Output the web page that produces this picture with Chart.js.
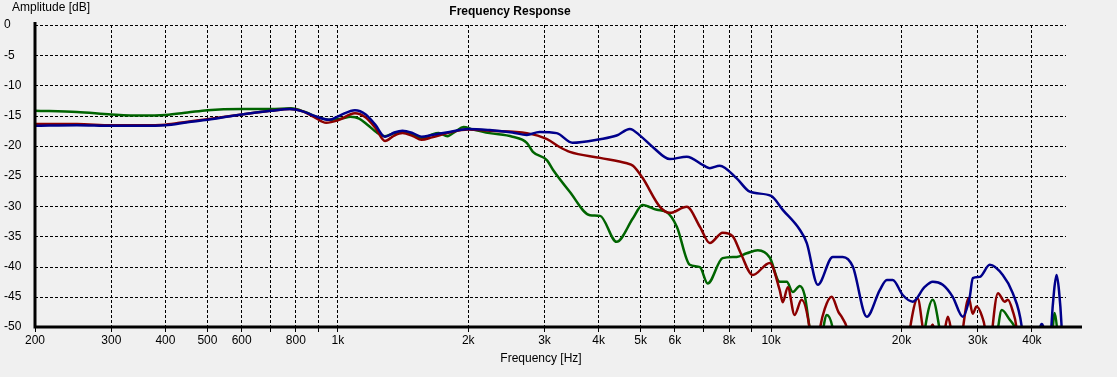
<!DOCTYPE html>
<html>
<head>
<meta charset="utf-8">
<script src="https://cdn.jsdelivr.net/npm/chart.js@4.4.1/dist/chart.umd.min.js"></script>
<style>
html, body { margin: 0; padding: 0; background: #f0f0f0; }
#wrap { width: 1117px; height: 377px; position: relative; }
</style>
</head>
<body>
<div id="wrap"><canvas id="chart_frequencyResponse"></canvas></div>
<script>
// [frequency Hz, amplitude dB]; values below -50 run off the bottom
var greenCurve = [
  [200, -14.2], [250, -14.4], [300, -14.8], [350, -15.0], [400, -14.9], [450, -14.5], [500, -14.1],
  [600, -13.9], [700, -13.9], [780, -13.8], [840, -14.4], [900, -15.3], [960, -15.7], [1020, -15.5],
  [1070, -15.2], [1120, -15.5], [1170, -16.5], [1230, -17.8], [1285, -18.4], [1350, -17.9], [1410, -17.7],
  [1490, -18.2], [1560, -18.8], [1640, -18.2], [1710, -17.9], [1790, -18.4], [1870, -17.6], [1950, -16.9],
  [2050, -17.3], [2240, -17.9], [2530, -18.5], [2730, -19.5], [2820, -21.0], [3040, -22.4], [3140, -24.0],
  [3430, -27.6], [3820, -31.5], [4030, -31.6], [4400, -35.9], [4800, -32.0], [5050, -29.8], [5450, -30.6],
  [5750, -31.0], [6060, -33.4], [6490, -39.7], [6850, -40.1], [7140, -42.8], [7730, -38.6], [8330, -38.4],
  [8790, -37.8], [9320, -37.3], [9930, -38.5], [10470, -42.5], [10870, -42.5], [11220, -44.2], [11650, -43.2],
  [11950, -44.7], [12290, -50.5], [12700, -57], [13100, -51.5], [13450, -48.0], [13900, -50.5], [14300, -58],
  [22000, -58], [22630, -50.5], [23620, -45.5], [24510, -50.5], [25400, -58], [32500, -58], [33370, -50.5],
  [34080, -47.2], [35560, -48.8], [36300, -49.7], [36900, -51], [37800, -58], [44000, -58], [44600, -51],
  [45150, -47.7], [45800, -51], [46400, -58]
];
var redCurve = [
  [200, -16.4], [250, -16.4], [300, -16.6], [350, -16.6], [400, -16.5], [450, -16.0], [500, -15.6],
  [600, -14.8], [700, -14.2], [775, -13.9], [830, -14.3], [880, -15.2], [940, -16.2], [1000, -15.8],
  [1095, -14.6], [1160, -15.3], [1220, -17.0], [1285, -19.2], [1350, -18.3], [1410, -17.9], [1490, -18.4],
  [1560, -19.0], [1650, -18.6], [1810, -17.8], [2000, -17.3], [2240, -17.5], [2730, -17.9], [3040, -18.9],
  [3250, -20.2], [3430, -21.0], [4030, -22.0], [4650, -22.9], [4800, -23.3], [5050, -25.3], [5540, -30.1],
  [5840, -31.1], [6390, -30.1], [6850, -33.4], [7220, -36.1], [7730, -34.4], [8160, -35.0], [8500, -37.7],
  [9070, -41.4], [9930, -39.4], [10470, -43.9], [10640, -45.9], [10930, -43.4], [11330, -48.0], [11760, -45.5],
  [12290, -50.5], [12600, -58], [12950, -50.5], [13300, -47], [13800, -45.0], [14300, -47.5], [14600, -48.5],
  [15000, -50.5], [15500, -58], [20300, -58], [20900, -50.5], [21800, -45.3], [22600, -51], [23100, -51],
  [23600, -49.6], [24000, -51], [25000, -51], [25600, -48.3], [26100, -51], [27000, -58], [27700, -50.5],
  [28600, -45.2], [29200, -47.8], [29800, -46.6], [30700, -48.3], [31200, -50.5], [31800, -58], [32400, -50.5],
  [33400, -44.4], [34600, -45.8], [35200, -45.5], [36100, -47.3], [36900, -50.5], [37500, -58]
];
var blueCurve = [
  [200, -16.7], [250, -16.6], [300, -16.7], [350, -16.7], [400, -16.6], [450, -16.1], [500, -15.7],
  [600, -14.8], [700, -14.2], [775, -13.9], [830, -14.3], [880, -15.0], [955, -15.7], [1010, -15.0],
  [1095, -14.1], [1160, -14.8], [1220, -16.5], [1285, -18.5], [1350, -17.8], [1410, -17.5], [1490, -17.9],
  [1560, -18.5], [1650, -18.2], [1810, -17.7], [2000, -17.2], [2240, -17.4], [2530, -17.8], [2730, -18.2],
  [2920, -17.7], [3200, -17.9], [3480, -19.5], [4030, -18.9], [4400, -18.3], [4720, -17.2], [5000, -18.4],
  [5330, -20.2], [5840, -22.2], [6390, -21.8], [7000, -23.3], [7220, -23.7], [7610, -23.3], [8330, -25.4],
  [8930, -27.6], [10000, -28.3], [10640, -30.6], [11650, -33.9], [12090, -36.1], [12820, -43.0], [13880, -38.4],
  [14640, -38.4], [15440, -40.0], [16630, -48.3], [17820, -43.9], [18500, -42.2], [19090, -42.2], [20130, -44.7],
  [21230, -45.8], [22600, -43.4], [23620, -42.5], [24900, -43.0], [26260, -45.0], [27700, -48.3], [28750, -45.0],
  [29210, -41.9], [30310, -41.7], [31970, -39.7], [34260, -41.4], [36130, -44.4], [37900, -50.0], [38800, -58],
  [40800, -58], [41600, -50.8], [42140, -49.5], [42700, -50.8], [43400, -58], [43900, -58], [44400, -49.5],
  [45000, -44.0], [45600, -41.4], [46200, -44.0], [46800, -49.5], [47300, -58]
];

var xGridFreqs = [200, 300, 400, 500, 600, 700, 800, 900, 1000, 2000, 3000, 4000, 5000, 6000, 7000, 8000, 9000,
  10000, 20000, 30000, 40000];
var xTickLabels = ['200', '300', '400', '500', '600', '', '800', '', '1k', '2k', '3k', '4k', '5k', '6k', '', '8k', '',
  '10k', '20k', '30k', '40k'];
var yTickValues = [0, -5, -10, -15, -20, -25, -30, -35, -40, -45, -50];
var gridEndFreq = 48000;

function toPoints(curve) {
  return curve.map(function(p) { return { x: p[0], y: p[1] }; });
}

var framePlugin = {
  id: 'frame',
  beforeDatasetsDraw: function(chart) {
    var ctx = chart.ctx, a = chart.chartArea, x = chart.scales.x, y = chart.scales.y;
    var xEnd = Math.round(x.getPixelForValue(gridEndFreq));
    ctx.save();
    ctx.strokeStyle = '#000';
    ctx.lineWidth = 1;
    ctx.setLineDash([3, 2]);
    yTickValues.forEach(function(v) {
      if (v <= -50) return;
      var py = Math.round(y.getPixelForValue(v)) + 0.5;
      ctx.beginPath();
      ctx.moveTo(a.left, py);
      ctx.lineTo(xEnd, py);
      ctx.stroke();
    });
    ctx.restore();
  },
  afterDatasetsDraw: function(chart) {
    var ctx = chart.ctx, a = chart.chartArea;
    ctx.save();
    ctx.strokeStyle = '#000';
    ctx.lineWidth = 3;
    ctx.beginPath();
    ctx.moveTo(a.left, a.top - 3);
    ctx.lineTo(a.left, a.bottom + 1.5);
    ctx.moveTo(a.left, a.bottom);
    ctx.lineTo(a.right, a.bottom);
    ctx.stroke();
    ctx.restore();
  },
  afterDraw: function(chart) {
    var ctx = chart.ctx;
    ctx.save();
    ctx.fillStyle = '#000';
    ctx.textBaseline = 'middle';
    ctx.font = 'bold 12px "Liberation Sans", Arial, sans-serif';
    ctx.textAlign = 'center';
    ctx.fillText('Frequency Response', 510, 12);
    ctx.font = '12px "Liberation Sans", Arial, sans-serif';
    ctx.textAlign = 'left';
    ctx.fillText('Amplitude [dB]', 12, 8);
    ctx.textAlign = 'center';
    ctx.fillText('Frequency [Hz]', 541, 359);
    ctx.restore();
  }
};

var chart_frequencyResponse = new Chart(document.getElementById('chart_frequencyResponse'), {
  type: 'line',
  data: {
    datasets: [
      { label: 'blue', data: toPoints(blueCurve), borderColor: '#00008b' },
      { label: 'red', data: toPoints(redCurve), borderColor: '#8b0000' },
      { label: 'green', data: toPoints(greenCurve), borderColor: '#006400' }
    ]
  },
  options: {
    animation: false,
    responsive: true,
    maintainAspectRatio: false,
    layout: { padding: { top: 25, right: 35, bottom: 0, left: 4 } },
    datasets: {
      line: {
        borderWidth: 2.5,
        pointRadius: 0,
        fill: false,
        cubicInterpolationMode: 'monotone',
        clip: 0
      }
    },
    plugins: {
      legend: { display: false },
      title: { display: false },
      tooltip: { enabled: false }
    },
    scales: {
      x: {
        type: 'logarithmic',
        min: 200,
        max: 52200,
        afterBuildTicks: function(scale) {
          scale.ticks = xGridFreqs.map(function(v) { return { value: v }; });
        },
        afterFit: function(scale) { scale.height = 50; },
        ticks: {
          autoSkip: false,
          maxRotation: 0,
          padding: 1,
          color: '#000',
          font: { family: '"Liberation Sans", Arial, sans-serif', size: 12 },
          callback: function(value) {
            var i = xGridFreqs.indexOf(value);
            return i < 0 ? '' : xTickLabels[i];
          }
        },
        grid: {
          color: '#000',
          lineWidth: 1,
          drawTicks: true,
          tickLength: 5
        },
        border: { display: false, dash: [3, 2] }
      },
      y: {
        type: 'linear',
        min: -50,
        max: 0,
        afterBuildTicks: function(scale) {
          scale.ticks = yTickValues.map(function(v) { return { value: v }; });
        },
        afterFit: function(scale) { scale.width = 31; },
        ticks: {
          crossAlign: 'far',
          color: '#000',
          padding: 0,
          font: { family: '"Liberation Sans", Arial, sans-serif', size: 12 }
        },
        grid: { display: false },
        border: { display: false }
      }
    }
  },
  plugins: [framePlugin]
});
</script>
</body>
</html>
